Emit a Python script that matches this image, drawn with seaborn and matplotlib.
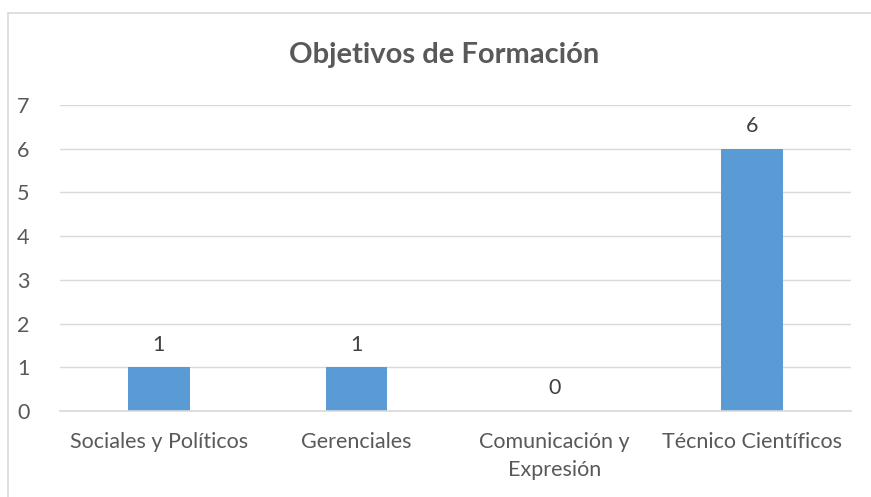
import matplotlib
matplotlib.use("Agg")
import matplotlib.pyplot as plt
import seaborn as sns
import pandas as pd
from matplotlib.patches import Rectangle

# datos
categorias = ["Sociales y Políticos", "Gerenciales", "Comunicación y\nExpresión", "Técnico Científicos"]
valores = [1, 1, 0, 6]
y_ticks = [0, 1, 2, 3, 4, 5, 6, 7]

df = pd.DataFrame({"categoria": categorias, "valor": valores})

sns.set_theme(style="white")
plt.rcParams["font.family"] = ["Lato", "DejaVu Sans"]

gris = "#595959"
fig = plt.figure(figsize=(8.71, 4.97), dpi=100)
ax = fig.add_axes([60 / 871, 86 / 497, 791 / 871, 306 / 497])

sns.barplot(data=df, x="categoria", y="valor", color="#5B9BD5", width=0.31,
            saturation=1, linewidth=0, ax=ax)

for c in ax.containers:
    ax.bar_label(c, fmt="%d", padding=9, fontsize=15.5, color="#404040")

ax.set_ylim(0, 7)
ax.set_yticks(y_ticks)
ax.set_xlim(-0.5, 3.5)
ax.yaxis.grid(True, color="#D9D9D9", linewidth=1)
ax.set_axisbelow(True)
for s in ["top", "right", "left"]:
    ax.spines[s].set_visible(False)
ax.spines["bottom"].set_color("#D9D9D9")
ax.spines["bottom"].set_linewidth(1.2)
ax.tick_params(axis="both", length=0, labelsize=15.5, colors=gris)
ax.tick_params(axis="x", pad=15)
ax.tick_params(axis="y", pad=22)
for t in ax.get_xticklabels():
    t.set_linespacing(1.5)
ax.set_xlabel("")
ax.set_ylabel("")

fig.text(444 / 871, 1 - 55 / 497, "Objetivos de Formación", ha="center", va="center",
         fontsize=21, fontweight="bold", color=gris)

fig.patches.append(Rectangle((8 / 871, -0.1), 1.0, 1 - 13 / 497 + 0.1,
                             transform=fig.transFigure, fill=False,
                             edgecolor="#D9D9D9", linewidth=1.2))

fig.savefig("out.png", dpi=100)
